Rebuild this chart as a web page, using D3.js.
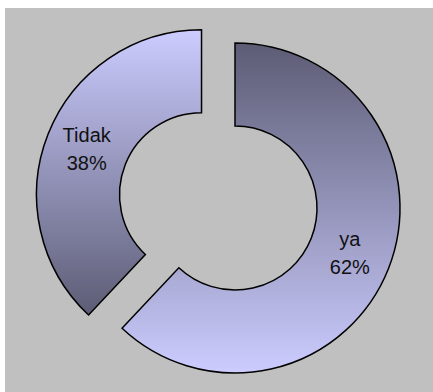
<!DOCTYPE html>
<html>
<head>
<meta charset="utf-8">
<script src="https://cdn.jsdelivr.net/npm/d3@7"></script>
<style>
  html, body { margin: 0; padding: 0; background: #ffffff; }
  svg { display: block; }
  text { font-family: "Liberation Sans", Arial, sans-serif; }
</style>
</head>
<body>
<svg id="chart" width="433" height="392"></svg>
<script>
// Answer categories and their shares (percent)
const categories = ["ya", "Tidak"];
const values = [62, 38];
const labels = ["62%", "38%"];
// Slices pulled away from the centre
const exploded = ["Tidak"];

const width = 433, height = 392;
const svg = d3.select("#chart");

// Panel background
svg.append("rect").attr("x", 0).attr("y", 0).attr("width", width).attr("height", height).attr("fill", "#ffffff");
svg.append("rect").attr("x", 5).attr("y", 8).attr("width", width - 5).attr("height", height - 8).attr("fill", "#c0c0c0");

const cx = 235, cy = 208;
const outerR = 165, innerR = 82, explodeDist = 36;

// Vertical gradients: "ya" dark at top, "Tidak" light at top
const defs = svg.append("defs");
const dark = "#5c5c75", light = "#ccccff";
const gradStops = { "ya": [dark, light], "Tidak": [light, dark] };
categories.forEach((c, i) => {
  const g = defs.append("linearGradient")
    .attr("id", "grad" + i)
    .attr("x1", 0).attr("y1", 0).attr("x2", 0).attr("y2", 1);
  g.append("stop").attr("offset", "0%").attr("stop-color", gradStops[c][0]);
  g.append("stop").attr("offset", "100%").attr("stop-color", gradStops[c][1]);
});

const data = categories.map((c, i) => ({ name: c, value: values[i], label: labels[i], idx: i }));

const pie = d3.pie().value(d => d.value).sort(null).startAngle(0).endAngle(2 * Math.PI);
const arc = d3.arc().innerRadius(innerR).outerRadius(outerR);
const labelArc = d3.arc().innerRadius((innerR + outerR) / 2).outerRadius((innerR + outerR) / 2);

const arcs = pie(data);

const g = svg.append("g").attr("transform", `translate(${cx},${cy})`);

const slice = g.selectAll("g.slice")
  .data(arcs)
  .join("g")
  .attr("class", "slice")
  .attr("transform", d => {
    if (!exploded.includes(d.data.name)) return null;
    const mid = (d.startAngle + d.endAngle) / 2;
    return `translate(${Math.sin(mid) * explodeDist},${-Math.cos(mid) * explodeDist})`;
  });

slice.append("path")
  .attr("d", arc)
  .attr("fill", d => `url(#grad${d.data.idx})`)
  .attr("stroke", "#000000")
  .attr("stroke-width", 1.5)
  .attr("stroke-linejoin", "miter");

const lbl = slice.append("text")
  .attr("transform", d => `translate(${labelArc.centroid(d)})`)
  .attr("text-anchor", "middle")
  .attr("font-size", 20)
  .attr("fill", "#111111");
lbl.append("tspan").attr("x", 0).attr("y", -7).text(d => d.data.name);
lbl.append("tspan").attr("x", 0).attr("y", 21).text(d => d.data.label);
</script>
</body>
</html>
